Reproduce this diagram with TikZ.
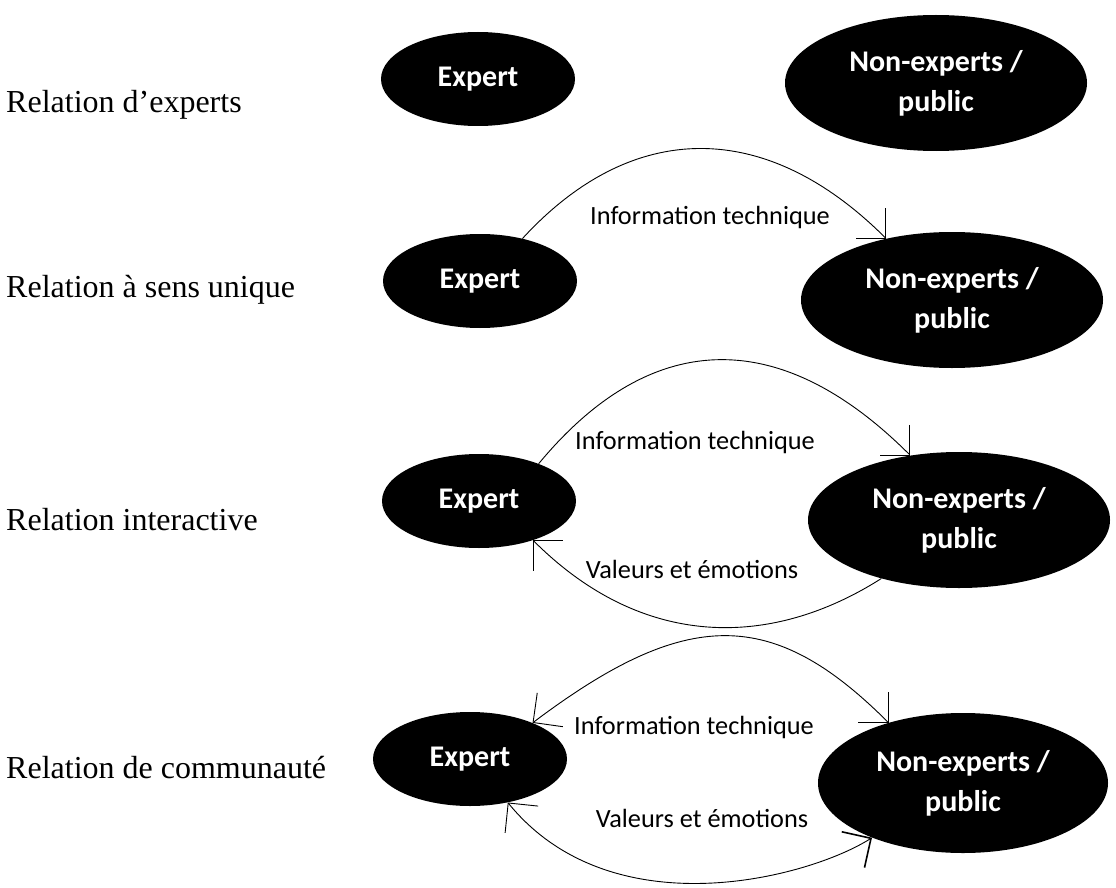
\documentclass[tikz,border=0pt]{standalone}
\usepackage{fontspec}
\setmainfont{Liberation Serif}
\newfontfamily\calibrifont{Carlito}
\usetikzlibrary{shapes.geometric,arrows.meta}

\begin{document}
\begin{tikzpicture}[x=1pt,y=-1pt,
    >={Straight Barb[angle=90:30pt]},
    relation/.style={anchor=base west,inner sep=0pt,font=\fontsize{32}{38}\selectfont},
    actor/.style={ellipse,fill=black,text=white,inner sep=0pt,align=center,
        font=\calibrifont\bfseries\fontsize{30}{40}\selectfont},
    expert/.style={actor,minimum width=194pt,minimum height=94pt},
    public/.style={actor,minimum width=302pt,minimum height=136pt},
    flow/.style={line width=0.9pt},
    flowlabel/.style={inner sep=0pt,font=\calibrifont\fontsize{26.3}{32}\selectfont}]

\useasboundingbox (0,0) rectangle (1116,888);

% Relation labels
\node[relation] (relA) at (6,113) {Relation d’experts};
\node[relation] (relB) at (6,297) {Relation à sens unique};
\node[relation] (relC) at (6,530) {Relation interactive};
\node[relation] (relD) at (6,778) {Relation de communauté};

% Relation d'experts
\node[expert] (expA) at (478,79) {Expert};
\node[public] (pubA) at (936,83) {Non-experts /\\public};

% Relation a sens unique
\node[expert] (expB) at (480,281) {Expert};
\node[public] (pubB) at (952,300) {Non-experts /\\public};
\draw[flow,->] (expB.45) .. controls +(110,-120) and +(-120,-120) .. (pubB.137);
\node[flowlabel] (infoB) at (710,217) {Information technique};

% Relation interactive
\node[expert] (expC) at (479,501) {Expert};
\node[public] (pubC) at (959,520) {Non-experts /\\public};
\draw[flow,->] (expC.32) .. controls +(110,-133) and +(-133,-133) .. (pubC.127);
\draw[flow,->] (pubC.217) .. controls +(-110,70) and +(110,110) .. (expC.-36);
\node[flowlabel] (infoC) at (695,442) {Information technique};
\node[flowlabel] (valC) at (692,569) {Valeurs et émotions};

% Relation de communaute
\node[expert] (expD) at (470,759) {Expert};
\node[public,minimum width=290pt,minimum height=140pt] (pubD) at (963,783) {Non-experts /\\public};
\draw[flow,<->] (expD.30) .. controls +(154,-116) and +(-116,-116) .. (pubD.141);
\draw[flow,{Straight Barb[angle=90:30pt]}-{Straight Barb[angle=90:30pt,line width=1.6pt]}]
    (expD.-49) .. controls +(104,128) and +(-63,40) .. (pubD.211);
\node[flowlabel] (infoD) at (694,727) {Information technique};
\node[flowlabel] (valD) at (702,818) {Valeurs et émotions};

\end{tikzpicture}
\end{document}
